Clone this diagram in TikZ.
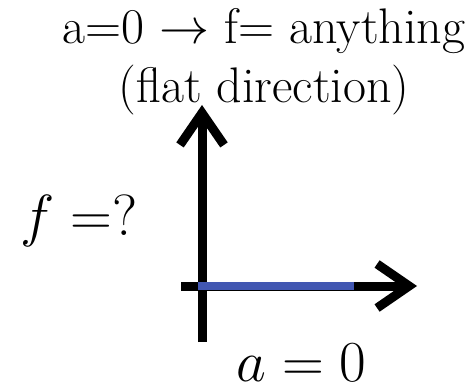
\documentclass[tikz,border=0pt]{standalone}
\usepackage{fix-cm}
\usepackage{amsmath}
\usepackage{xcolor}
\usetikzlibrary{arrows.meta}
\definecolor{flatcolor}{HTML}{4257B2}

\begin{document}
\begin{tikzpicture}[
    x=1pt, y=-1pt,
    axis/.style={line width=9pt, -{Straight Barb[length=32pt, width=44pt]}},
    flat/.style={line width=8pt, flatcolor},
    caption/.style={font=\fontsize{50}{59}\selectfont, align=center, inner sep=0pt},
    mathlabel/.style={font=\fontsize{58}{64}\selectfont, inner sep=0pt}
]
\useasboundingbox (0,0) rectangle (473,387);

% axes
\coordinate (vstart) at (202,342);
\coordinate (vend) at (202,105);
\coordinate (hstart) at (181,286);
\coordinate (hend) at (417,286);
\coordinate (flatstart) at (198,286);
\coordinate (flatend) at (354,286);

\draw[axis] (vstart) -- (vend);
\draw[axis] (hstart) -- (hend);
\draw[flat] (flatstart) -- (flatend);

% labels
\node[caption, anchor=base] (title) at (264,103) {a=0 $\rightarrow$ f= anything\\(flat direction)};
\node[mathlabel, anchor=base west] (flabel) at (20,235) {$f =?$};
\node[mathlabel, anchor=base west] (alabel) at (236,381) {$a = 0$};
\end{tikzpicture}
\end{document}
